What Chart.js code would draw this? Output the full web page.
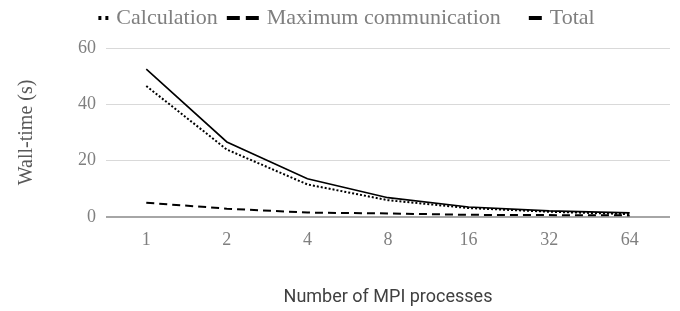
<!DOCTYPE html>
<html>
<head>
<meta charset="utf-8">
<script src="https://cdn.jsdelivr.net/npm/chart.js@4/dist/chart.umd.min.js"></script>
<style>
  html, body { margin: 0; padding: 0; background: #fff; }
  #wrap { width: 680px; height: 311px; }
</style>
</head>
<body>
<div id="wrap"><canvas id="myChart"></canvas></div>
<script>
'use strict';

const processes = ['1', '2', '4', '8', '16', '32', '64'];
const calculation = [46.5, 23.9, 11.5, 5.9, 3.1, 1.8, 0.95];
const maxCommunication = [5.0, 2.9, 1.5, 1.2, 0.7, 0.6, 0.5];
const total = [52.5, 26.6, 13.5, 6.8, 3.5, 2.1, 1.4];
const yTicks = [0, 20, 40, 60];

const serif = '"Liberation Serif", "Times New Roman", serif';

// legend markers drawn into small canvases, right aligned so they sit next to the text
const makeMarker = (segments) => {
	const c = document.createElement('canvas');
	c.width = 60;
	c.height = 6;
	const g = c.getContext('2d');
	g.fillStyle = '#000';
	segments.forEach(([x0, x1]) => g.fillRect(48 - x1, 1, x1 - x0, 4));
	return c;
};
const markers = [
	makeMarker([[0, 3], [7, 10]]),
	makeMarker([[0, 13], [19, 32]]),
	makeMarker([[0, 13]]),
];

const legendSpace = {
	id: 'legendSpace',
	beforeInit(chart) {
		const fit = chart.legend.fit;
		chart.legend.fit = function () {
			fit.call(this);
			this.height += 9;
		};
	},
};

const ctx = document.getElementById('myChart').getContext('2d');

const myChart = new Chart(ctx, {
	type: 'line',
	plugins: [legendSpace],
	data: {
		labels: processes,
		datasets: [
			{
				label: 'Calculation',
				data: calculation,
				borderColor: '#000',
				borderWidth: 2,
				borderDash: [2, 2],
				pointRadius: 0,
				tension: 0,
			},
			{
				label: 'Maximum communication',
				data: maxCommunication,
				borderColor: '#000',
				borderWidth: 2,
				borderDash: [8, 5],
				pointRadius: 0,
				tension: 0,
			},
			{
				label: 'Total',
				data: total,
				borderColor: '#000',
				borderWidth: 1.6,
				pointRadius: 0,
				tension: 0,
			},
		],
	},
	options: {
		responsive: true,
		maintainAspectRatio: false,
		animation: false,
		layout: { padding: { left: 0, right: 10, top: -1, bottom: 3 } },
		plugins: {
			legend: {
				position: 'top',
				labels: {
					usePointStyle: true,
					pointStyleWidth: 30,
					color: '#7f7f7f',
					font: { family: serif, size: 22 },
					padding: 8,
					generateLabels: (chart) =>
						chart.data.datasets.map((ds, i) => ({
							text: ds.label,
							fillStyle: '#000',
							strokeStyle: '#000',
							lineWidth: 0,
							pointStyle: markers[i],
							hidden: false,
							datasetIndex: i,
							fontColor: '#7f7f7f',
						})),
				},
			},
			tooltip: { enabled: false },
		},
		scales: {
			x: {
				offset: true,
				grid: { display: false, drawTicks: false },
				border: { display: false },
				ticks: {
					color: '#7f7f7f',
					font: { family: serif, size: 18 },
					padding: 13,
				},
				title: {
					display: true,
					text: 'Number of MPI processes',
					color: '#404040',
					font: { family: 'Roboto', size: 18 },
					padding: { top: 22, bottom: 0 },
				},
			},
			y: {
				min: 0,
				max: 60,
				afterBuildTicks: (axis) => {
					axis.ticks = yTicks.map((v) => ({ value: v }));
				},
				grid: {
					drawTicks: false,
					color: (c) => (c.tick && c.tick.value === 0 ? '#a6a6a6' : '#d9d9d9'),
					lineWidth: (c) => (c.tick && c.tick.value === 0 ? 2 : 1),
				},
				border: { display: false },
				ticks: {
					color: '#7f7f7f',
					font: { family: serif, size: 18 },
					padding: 10,
				},
				title: {
					display: true,
					text: 'Wall-time (s)',
					color: '#595959',
					font: { family: serif, size: 20 },
					padding: { top: 15, bottom: 29 },
				},
			},
		},
	},
});
</script>
</body>
</html>
